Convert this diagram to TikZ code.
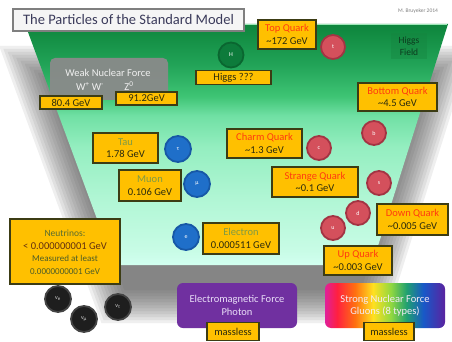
\documentclass[tikz,border=0pt]{standalone}
\usepackage{fontspec}
\setmainfont{Carlito}
\definecolor{byellow}{HTML}{FFC000}
\definecolor{bborder}{HTML}{3C3C14}
\definecolor{bdark}{HTML}{2B2B0E}
\definecolor{qname}{HTML}{FF3A10}
\definecolor{lname}{HTML}{7E9A45}
\definecolor{qred}{HTML}{D4505C}
\definecolor{qredd}{HTML}{A33443}
\definecolor{lblue}{HTML}{1F6FC9}
\definecolor{lblued}{HTML}{1758A6}
\definecolor{nblack}{HTML}{1E1E1E}
\definecolor{nblackd}{HTML}{444444}
\definecolor{hgreen}{HTML}{0D7B3B}
\definecolor{hgreend}{HTML}{0A6630}
\definecolor{empurple}{HTML}{7030A0}
\definecolor{emtext}{HTML}{EADFF8}
\definecolor{wgray}{HTML}{8A8A8A}
\definecolor{shadowgray}{HTML}{505050}
\definecolor{titletext}{HTML}{3A3A5A}
\definecolor{titleborder}{HTML}{7F7F7F}
\definecolor{titlefill}{HTML}{F5F5F5}
\definecolor{hftext}{HTML}{0C3A1E}
\definecolor{hffill}{HTML}{15843F}
\definecolor{hlgreen}{HTML}{9FE8B8}
\definecolor{g0}{HTML}{D2FFF0}
\definecolor{g1}{HTML}{C8FCE6}
\definecolor{g2}{HTML}{B0F6D4}
\definecolor{g3}{HTML}{94EEC0}
\definecolor{g4}{HTML}{70E0A4}
\definecolor{g5}{HTML}{3EC474}
\definecolor{g6}{HTML}{22A458}
\definecolor{g7}{HTML}{128C42}
\definecolor{g8}{HTML}{0E843C}
\definecolor{r0}{HTML}{E0209A}
\definecolor{r1}{HTML}{FF2040}
\definecolor{r2}{HTML}{FF7010}
\definecolor{r3}{HTML}{FFE020}
\definecolor{r4}{HTML}{90D840}
\definecolor{r5}{HTML}{20A070}
\definecolor{r6}{HTML}{1858C8}
\definecolor{r7}{HTML}{5A22A0}
\pgfdeclareverticalshading{greenfade}{100bp}{color(0bp)=(g0); color(25bp)=(g0); color(28bp)=(g1); color(39bp)=(g2); color(49.5bp)=(g3); color(56bp)=(g4); color(60bp)=(g5); color(66.5bp)=(g6); color(73bp)=(g7); color(75bp)=(g8); color(100bp)=(g8)}
\pgfdeclarehorizontalshading{rainbow}{100bp}{color(0bp)=(r0); color(25bp)=(r0); color(30bp)=(r1); color(37.5bp)=(r2); color(45bp)=(r3); color(52.5bp)=(r4); color(59bp)=(r5); color(66bp)=(r6); color(75bp)=(r7); color(100bp)=(r7)}
\begin{document}
\begin{tikzpicture}[x=1pt,y=-1pt,
  sz/.style 2 args={minimum width=#1, minimum height=#2},
  ybox/.style={rectangle, fill=byellow, draw=bborder, line width=1.3pt, inner sep=0pt, align=center, text=bdark, font=\fontsize{10.5}{12.5}\selectfont},
  ball/.style={circle, inner sep=0pt, line width=1.8pt, text=white, font=\fontsize{6}{6}\selectfont},
  redball/.style={ball, fill=qred, draw=qredd, minimum size=24pt},
  blueball/.style={ball, fill=lblue, draw=lblued, minimum size=26pt},
  blackball/.style={ball, fill=nblack, draw=nblackd, minimum size=26pt, text=white!85!black},
  higgsball/.style={ball, fill=hgreen, draw=hgreend, minimum size=25pt},
  fbox/.style={rectangle, rounded corners=6pt, inner sep=0pt, align=center, text=emtext, font=\fontsize{10.5}{12.5}\selectfont},
  wtext/.style={inner sep=0pt, text=white!94!black, font=\fontsize{10.5}{12}\selectfont},
  ntext/.style={inner sep=0pt, text=bdark}
]
\useasboundingbox (0,0) rectangle (452,342);
\fill[white] (0,0) rectangle (452,342);

% soft shadow of the field
\foreach \d in {-15,-12,...,18} {
  \fill[shadowgray, opacity=0.09] ({25-1.435*(\d)},{64-(\d)}) -- ({448+1.363*(\d)},{64-(\d)}) -- ({372+0.733*(\d)},{305+(\d)}) -- ({114-0.697*(\d)},{305+(\d)}) -- cycle;
}
% Higgs field
\shade[shading=greenfade] (25,24) -- (448,24) -- (372,265) -- (114,265) -- cycle;
\draw[hlgreen, line width=1.2pt] (26,24.6) -- (447,24.6);
\node[fill=hffill, opacity=0.4, text opacity=1, text=hftext, align=center, inner sep=0pt, sz={36pt}{26pt}, font=\fontsize{9.5}{12}\selectfont] (hfield) at (409,46) {Higgs\\Field};

% title and signature
\node[rectangle, fill=titlefill, draw=titleborder, line width=1.4pt, inner sep=0pt, sz={231pt}{22pt}, text=titletext, font=\fontsize{14.5}{16}\selectfont] (title) at (128.5,20) {The Particles of the Standard Model};
\node[anchor=west, inner sep=0pt, text=gray, font=\fontsize{5.5}{6}\selectfont] (sign) at (398,11) {M. Bruyeker 2014};

% weak force
\node[rectangle, rounded corners=5pt, fill=wgray, opacity=0.95, sz={118pt}{42pt}] (weak) at (109,79) {};
\node[wtext] (weaktitle) at (108,73) {Weak Nuclear Force};
\node[wtext] (wpm) at (90,86) {W\textsuperscript{+} W\textsuperscript{-}};
\node[wtext] (zzero) at (129,86) {Z\textsuperscript{0}};
\node[ybox, sz={62pt}{13pt}] (wmass) at (71,102.5) {80.4 GeV};
\node[ybox, sz={61pt}{13pt}] (zmass) at (146.5,98.5) {91.2GeV};

% Higgs boson
\node[higgsball] (higgs) at (231,55) {H};
\node[ybox, sz={75pt}{14pt}] (higgsbox) at (233.5,77.5) {Higgs ???};

% quarks
\node[redball] (tball) at (333,47) {t};
\node[ybox, sz={58pt}{29pt}] (tbox) at (287,34.5) {{\color{qname}Top Quark}\\\textasciitilde172 GeV};
\node[redball] (bball) at (374,133) {b};
\node[ybox, sz={79pt}{28pt}] (bbox) at (397.5,97) {{\color{qname}Bottom Quark}\\\textasciitilde4.5 GeV};
\node[redball] (cball) at (319,148) {c};
\node[ybox, sz={75pt}{29pt}] (cbox) at (264.5,143.5) {{\color{qname}Charm Quark}\\\textasciitilde1.3 GeV};
\node[redball] (sball) at (379,183) {s};
\node[ybox, sz={86pt}{30pt}] (sbox) at (315,182) {{\color{qname}Strange Quark}\\\textasciitilde0.1 GeV};
\node[redball] (dball) at (358,213) {d};
\node[ybox, sz={71pt}{31pt}] (dbox) at (412.5,219.5) {{\color{qname}Down Quark}\\\textasciitilde0.005 GeV};
\node[redball] (uball) at (333,228) {u};
\node[ybox, sz={68pt}{29pt}] (ubox) at (358,260.5) {{\color{qname}Up Quark}\\\textasciitilde0.003 GeV};

% leptons
\node[blueball] (tauball) at (178,149) {τ};
\node[ybox, sz={65pt}{30pt}] (taubox) at (125.5,148) {{\color{lname}Tau}\\1.78 GeV};
\node[blueball] (muball) at (197,184) {μ};
\node[ybox, sz={62pt}{31pt}] (mubox) at (150,185.5) {{\color{lname}Muon}\\0.106 GeV};
\node[blueball] (eball) at (186,237) {e};
\node[ybox, sz={76pt}{31pt}] (ebox) at (241,238.5) {{\color{lname}Electron}\\0.000511 GeV};

% neutrinos
\node[ybox, sz={110pt}{65pt}] (nubox) at (65,251.5) {};
\node[ntext, text=lname!70!black, font=\fontsize{9.5}{11}\selectfont] (nu1) at (65,233) {Neutrinos:};
\node[ntext, text=bborder!80!red, font=\fontsize{10.5}{12}\selectfont] (nu2) at (65,246) {< 0.000000001 GeV};
\node[ntext, text=lname!60!black, font=\fontsize{9}{10}\selectfont] (nu3) at (65,258.5) {Measured at least};
\node[ntext, text=lname!60!black, font=\fontsize{9}{10}\selectfont] (nu4) at (65,271.5) {0.0000000001 GeV};
\node[blackball] (nue) at (58,299) {ν\textsubscript{e}};
\node[blackball] (numu) at (84,319) {ν\textsubscript{μ}};
\node[blackball] (nutau) at (118,307) {ν\textsubscript{τ}};

% forces
\node[fbox, fill=empurple, sz={120pt}{45pt}] (em) at (237,305.5) {Electromagnetic Force\\Photon};
\node[ybox, sz={52pt}{18pt}] (emmass) at (233,331.5) {massless};
\node[fbox, sz={120pt}{45pt}, text=white!92!violet, path picture={\shade[shading=rainbow] (path picture bounding box.south west) rectangle (path picture bounding box.north east);}] (strong) at (385,305.5) {Strong Nuclear Force\\Gluons (8 types)};
\node[ybox, sz={50pt}{18pt}] (strongmass) at (389,331.5) {massless};
\end{tikzpicture}
\end{document}
